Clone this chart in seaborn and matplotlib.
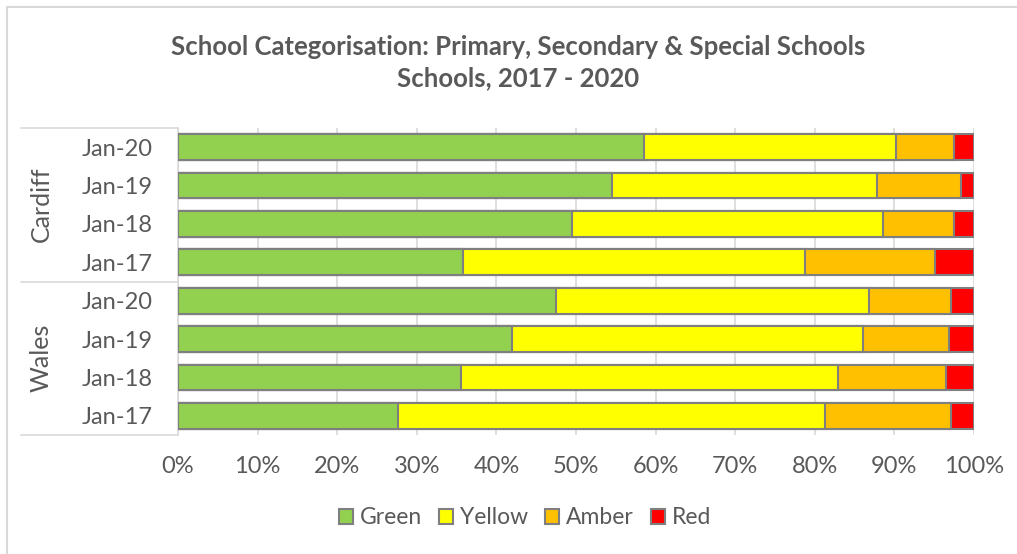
import pandas as pd
import numpy as np
import matplotlib
matplotlib.use("Agg")
import matplotlib.pyplot as plt
from matplotlib.patches import Patch
from matplotlib.lines import Line2D
import seaborn as sns

# Data (percent of schools in each category), top row first
areas = ["Cardiff"] * 4 + ["Wales"] * 4
years = ["Jan-20", "Jan-19", "Jan-18", "Jan-17"] * 2
green = [58.5, 54.5, 49.5, 35.8, 47.5, 42.0, 35.5, 27.6]
yellow = [31.7, 33.3, 39.1, 43.0, 39.3, 44.1, 47.4, 53.7]
amber = [7.3, 10.6, 8.9, 16.3, 10.3, 10.8, 13.6, 15.8]
red = [2.5, 1.6, 2.5, 4.9, 2.9, 3.1, 3.5, 2.9]

categories = ["Green", "Yellow", "Amber", "Red"]
colors = {"Green": "#92D050", "Yellow": "#FFFF00", "Amber": "#FFC000", "Red": "#FF0000"}

df = pd.DataFrame({"Area": areas, "Year": years,
                   "Green": green, "Yellow": yellow, "Amber": amber, "Red": red})
df["Row"] = df["Area"] + " " + df["Year"]
row_order = list(df["Row"])

# cumulative totals, so the bars can be overlaid to look stacked
cum = df[categories].cumsum(axis=1)

sns.set_style("white")
plt.rcParams["font.family"] = ["Lato", "DejaVu Sans"]
text_col = "#595959"

fig = plt.figure(figsize=(10.17, 5.54), dpi=100)
ax = fig.add_axes([178 / 1017, 1 - 435 / 554, 796 / 1017, 307 / 554])

for cat in categories[::-1]:
    sns.barplot(x=cum[cat], y=df["Row"], order=row_order, orient="h",
                color=colors[cat], edgecolor="#7F7F7F", linewidth=1.5,
                width=0.67, saturation=1, ax=ax, zorder=3)

ax.set_xlim(0, 100)
ax.set_xticks(np.arange(0, 101, 10))
ax.set_xticklabels([f"{v}%" for v in range(0, 101, 10)], fontsize=17, color=text_col)
ax.tick_params(axis="x", length=0, pad=15)
ax.grid(axis="x", color="#D9D9D9", linewidth=1.2, zorder=0)
ax.set_axisbelow(True)

ax.set_yticks(range(len(row_order)))
ax.set_yticklabels(years, fontsize=17, color=text_col)
ax.tick_params(axis="y", length=0, pad=18)
ax.set_xlabel("")
ax.set_ylabel("")

for s in ["top", "right", "bottom"]:
    ax.spines[s].set_visible(False)
ax.spines["left"].set_color("#D9D9D9")
ax.spines["left"].set_linewidth(1.2)

# group separators and group labels
x0 = (21 - 178) / 796
for yv in [-0.5, 3.5, 7.5]:
    ax.add_line(Line2D([x0, 0], [yv, yv], color="#D9D9D9", linewidth=1.2,
                       transform=ax.get_yaxis_transform(), clip_on=False))
for i, name in enumerate(["Cardiff", "Wales"]):
    ax.text((41 - 178) / 796, 1.5 + 4 * i, name, rotation=90, fontsize=18,
            color=text_col, ha="center", va="center",
            transform=ax.get_yaxis_transform())

fig.text(518 / 1017, 1 - 47 / 554, "School Categorisation: Primary, Secondary & Special Schools",
         ha="center", va="center", fontsize=18.5, fontweight="bold", color=text_col)
fig.text(518 / 1017, 1 - 78 / 554, "Schools, 2017 - 2020",
         ha="center", va="center", fontsize=18.5, fontweight="bold", color=text_col)

handles = [Patch(facecolor=colors[c], edgecolor="#7F7F7F", linewidth=1.5) for c in categories]
fig.legend(handles, categories, loc="center", bbox_to_anchor=(525 / 1017, 1 - 518 / 554),
           ncol=4, frameon=False, fontsize=16.5, handlelength=0.6, handleheight=0.6,
           handletextpad=0.3, columnspacing=0.75, labelcolor=text_col)

# chart area border (top and left visible)
fig.add_artist(Line2D([7 / 1017, 1], [1 - 7 / 554] * 2, color="#D9D9D9", linewidth=1.5))
fig.add_artist(Line2D([7 / 1017] * 2, [0, 1 - 7 / 554], color="#D9D9D9", linewidth=1.5))

fig.savefig("out.png", dpi=100)
